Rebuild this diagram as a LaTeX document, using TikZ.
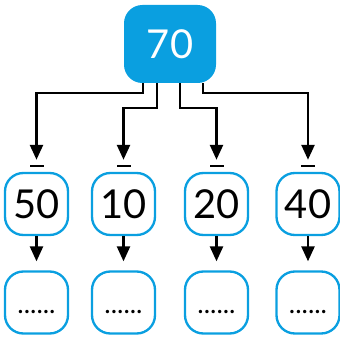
\documentclass[tikz,border=0pt]{standalone}
\usepackage{fontspec}
\setmainfont{Lato}
\usetikzlibrary{positioning,arrows.meta}
\definecolor{numblue}{HTML}{0A9FE0}

\begin{document}
\begin{tikzpicture}[x=0.3mm,y=-0.3mm,
    topbox/.style={fill=numblue,rounded corners=5.5mm,minimum width=27.6mm,minimum height=23.4mm,
      text=white,font=\fontsize{34}{34}\selectfont},
    partbox/.style={draw=numblue,line width=0.7mm,rounded corners=5.5mm,minimum width=18.9mm,
      minimum height=18.6mm,font=\fontsize{34}{34}\selectfont},
    ansbox/.style={partbox,font=\fontsize{23}{23}\selectfont,text height=6.6mm,text depth=0pt},
    minusbar/.style={fill=black,minimum width=4.2mm,minimum height=0.6mm,inner sep=0pt},
    conn/.style={line width=0.75mm,-{Triangle[length=4.5mm,width=3.9mm]}}]
  \useasboundingbox (0,0) rectangle (340,340);
  % whole
  \node[topbox] (whole) at (170,44) {70};
  % parts
  \node[partbox] (p1) at (36.5,204) {50};
  \node[partbox] (p2) at (123.5,204) {10};
  \node[partbox] (p3) at (216.5,204) {20};
  \node[partbox] (p4) at (308,204) {40};
  % answers
  \node[ansbox] (a1) at (36.5,302.5) {......};
  \node[ansbox] (a2) at (123.5,302.5) {......};
  \node[ansbox] (a3) at (216.5,302.5) {......};
  \node[ansbox] (a4) at (308,302.5) {......};
  % minus signs
  \foreach \i/\x in {1/36.5,2/123.5,3/216.5,4/308}
    \node[minusbar] (m\i) at (\x,166) {};
  % split lines
  \coordinate (s1) at ([xshift=-27*0.3mm]whole.south);
  \coordinate (s2) at ([xshift=-13*0.3mm]whole.south);
  \coordinate (s3) at ([xshift=10*0.3mm]whole.south);
  \coordinate (s4) at ([xshift=33*0.3mm]whole.south);
  \draw[conn,shorten >=1.5mm] (s1) -- (s1 |- 0,93) -| (m1.north);
  \draw[conn,shorten >=1.5mm] (s2) -- (s2 |- 0,108) -| (m2.north);
  \draw[conn,shorten >=1.5mm] (s3) -- (s3 |- 0,108) -| (m3.north);
  \draw[conn,shorten >=1.5mm] (s4) -- (s4 |- 0,93) -| (m4.north);
  \foreach \i in {1,...,4}
    \draw[conn,shorten >=2.7mm] (p\i.south) -- (a\i.north);
\end{tikzpicture}
\end{document}
